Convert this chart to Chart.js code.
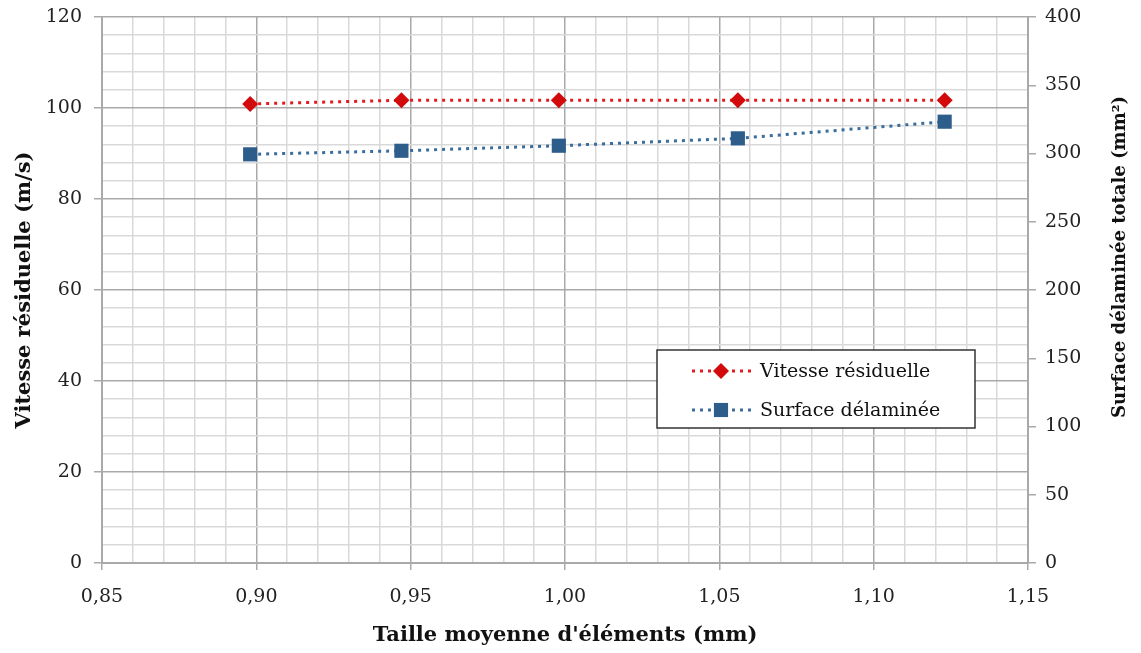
<!DOCTYPE html>
<html lang="fr">
<head>
    <title>Vitesse résiduelle et surface délaminée</title>
    <meta charset="utf-8" />
    <script src="https://cdn.jsdelivr.net/npm/chart.js"></script>
    <style>
        body { margin: 0; background: #fff; }
        #wrap { width: 1141px; height: 653px; position: relative; }
    </style>
</head>
<body>
    <div id="wrap"><canvas id="chart"></canvas></div>

    <script>
        // Données
        var tailles = [0.898, 0.947, 0.998, 1.056, 1.123];
        var vitesse = [100.9, 101.7, 101.7, 101.7, 101.7];
        var surface = [299.4, 302.0, 305.7, 311.1, 323.3];
        var nomsSeries = ['Vitesse résiduelle', 'Surface délaminée'];

        var police = "'DejaVu Serif', 'Liberation Serif', serif";
        var gridMajeur = '#a9a9a9';
        var gridMineur = '#d9d9d9';

        function pts(xs, ys) {
            return xs.map(function (x, i) { return { x: x, y: ys[i] }; });
        }

        // marqueur (losange ou carré)
        function marqueur(ctx, style, x, y, r, couleur) {
            ctx.save();
            ctx.fillStyle = couleur;
            ctx.beginPath();
            if (style === 'rectRot') {
                ctx.moveTo(x - r, y);
                ctx.lineTo(x, y - r);
                ctx.lineTo(x + r, y);
                ctx.lineTo(x, y + r);
                ctx.closePath();
            } else {
                var s = Math.SQRT1_2 * r;
                ctx.rect(x - s, y - s, 2 * s, 2 * s);
            }
            ctx.fill();
            ctx.restore();
        }

        // légende encadrée dans la zone du graphique + titre de l'axe droit
        var extras = {
            id: 'extras',
            afterDraw: function (chart) {
                var ctx = chart.ctx;
                ctx.save();
                ctx.fillStyle = '#fff';
                ctx.fillRect(657, 350, 318, 78);
                ctx.strokeStyle = '#333';
                ctx.lineWidth = 1.5;
                ctx.strokeRect(657, 350, 318, 78);

                chart.data.datasets.forEach(function (ds, i) {
                    var y = i === 0 ? 371 : 410;
                    ctx.save();
                    ctx.strokeStyle = ds.borderColor;
                    ctx.lineWidth = 3;
                    ctx.setLineDash([3, 5]);
                    ctx.beginPath();
                    ctx.moveTo(692, y);
                    ctx.lineTo(752, y);
                    ctx.stroke();
                    ctx.restore();
                    marqueur(ctx, ds.pointStyle, 721, y, ds.pointRadius, ds.pointBackgroundColor);
                    ctx.fillStyle = '#111';
                    ctx.font = '19px ' + police;
                    ctx.textAlign = 'left';
                    ctx.textBaseline = 'middle';
                    ctx.fillText(ds.label, 760, y + 1);
                });

                // titre de l'axe de droite (lu de bas en haut)
                ctx.translate(1120, 257);
                ctx.rotate(-Math.PI / 2);
                ctx.font = 'bold 18px ' + police;
                ctx.fillStyle = '#111';
                ctx.textAlign = 'center';
                ctx.textBaseline = 'middle';
                ctx.fillText('Surface délaminée totale (mm²)', 0, 0);
                ctx.restore();
            }
        };

        new Chart(document.getElementById('chart'), {
            type: 'line',
            data: {
                datasets: [{
                    label: nomsSeries[0],
                    data: pts(tailles, vitesse),
                    yAxisID: 'y',
                    borderColor: '#e01c22',
                    borderWidth: 3,
                    borderDash: [3, 5],
                    pointStyle: 'rectRot',
                    pointRadius: 8,
                    pointHoverRadius: 8,
                    pointBackgroundColor: '#d20a0c',
                    pointBorderWidth: 0
                }, {
                    label: nomsSeries[1],
                    data: pts(tailles, surface),
                    yAxisID: 'y2',
                    borderColor: '#3a6c9c',
                    borderWidth: 3,
                    borderDash: [3, 5],
                    pointStyle: 'rect',
                    pointRadius: 10,
                    pointHoverRadius: 10,
                    pointBackgroundColor: '#2c5d8b',
                    pointBorderWidth: 0
                }]
            },
            options: {
                responsive: true,
                maintainAspectRatio: false,
                animation: false,
                layout: { padding: { top: 17, left: 0, right: 0, bottom: 0 } },
                plugins: {
                    legend: { display: false },
                    tooltip: { enabled: false }
                },
                scales: {
                    x: {
                        type: 'linear',
                        min: 0.85,
                        max: 1.15,
                        afterFit: function (s) { s.height = 90; s.paddingLeft = 0; s.paddingRight = 0; },
                        ticks: {
                            stepSize: 0.01,
                            autoSkip: false,
                            maxRotation: 0,
                            padding: 16,
                            color: '#222',
                            font: { family: police, size: 19 },
                            callback: function (v) {
                                return Math.round(v * 100) % 5 === 0 ? v.toFixed(2).replace('.', ',') : '';
                            }
                        },
                        grid: {
                            color: function (c) { return Math.round(c.tick.value * 100) % 5 === 0 ? gridMajeur : gridMineur; },
                            tickColor: function (c) { return Math.round(c.tick.value * 100) % 5 === 0 ? gridMajeur : 'transparent'; },
                            lineWidth: 1.5,
                            tickLength: 7
                        },
                        border: { color: gridMajeur, width: 2 },
                        title: {
                            display: true,
                            text: "Taille moyenne d'éléments (mm)",
                            color: '#111',
                            font: { family: police, size: 21, weight: 'bold' },
                            padding: { top: 0, bottom: 5 }
                        }
                    },
                    y: {
                        position: 'left',
                        min: 0,
                        max: 120,
                        afterFit: function (s) { s.width = 102; s.paddingTop = 0; s.paddingBottom = 0; },
                        ticks: {
                            stepSize: 4,
                            autoSkip: false,
                            padding: 12,
                            color: '#222',
                            font: { family: police, size: 19 },
                            callback: function (v) { return v % 20 === 0 ? v : ''; }
                        },
                        grid: {
                            color: function (c) { return c.tick.value % 20 === 0 ? gridMajeur : gridMineur; },
                            tickColor: function (c) { return c.tick.value % 20 === 0 ? gridMajeur : 'transparent'; },
                            lineWidth: 1.5,
                            tickLength: 8
                        },
                        border: { color: gridMajeur, width: 2 },
                        title: {
                            display: true,
                            text: 'Vitesse résiduelle (m/s)',
                            color: '#111',
                            font: { family: police, size: 21, weight: 'bold' },
                            padding: { top: 12, bottom: 0 }
                        }
                    },
                    y2: {
                        position: 'right',
                        min: 0,
                        max: 400,
                        afterFit: function (s) { s.width = 113; s.paddingTop = 0; s.paddingBottom = 0; },
                        ticks: {
                            stepSize: 50,
                            padding: 9,
                            color: '#222',
                            font: { family: police, size: 19 }
                        },
                        grid: {
                            drawOnChartArea: false,
                            tickColor: gridMajeur,
                            lineWidth: 1.5,
                            tickLength: 8
                        },
                        border: { color: gridMajeur, width: 2 }
                    }
                }
            },
            plugins: [extras]
        });
    </script>
</body>
</html>
